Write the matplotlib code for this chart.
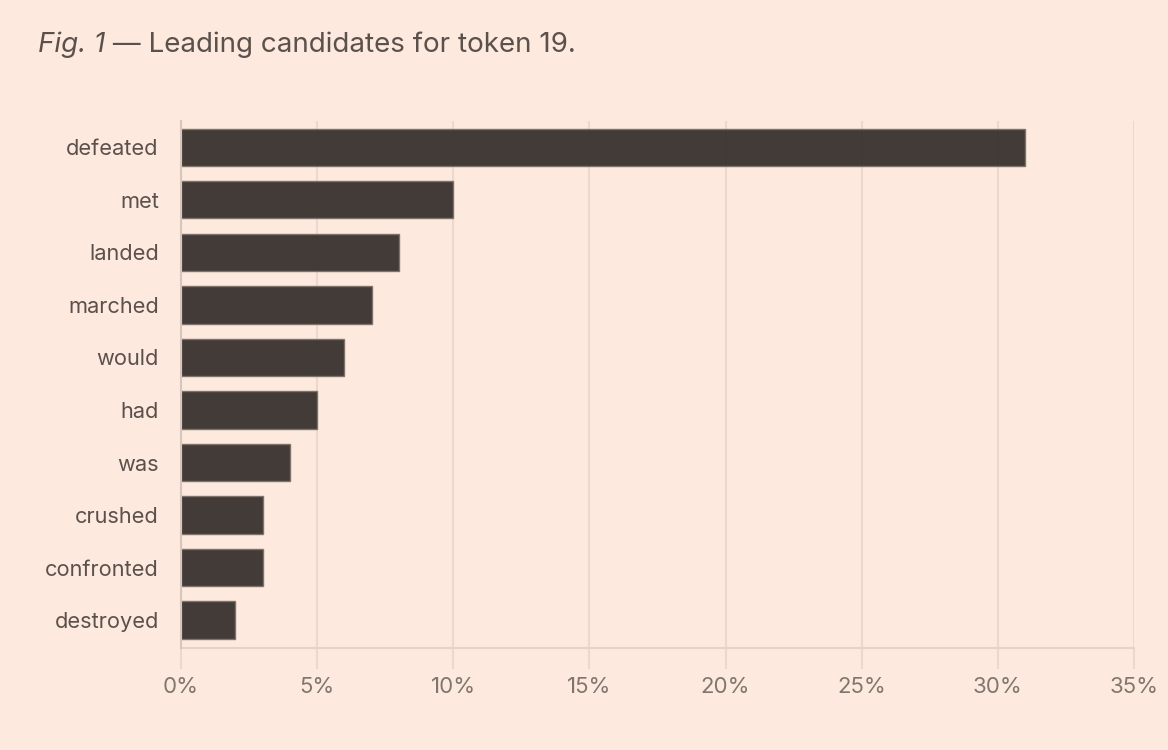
import matplotlib
matplotlib.use("Agg")
import matplotlib.pyplot as plt
from matplotlib.ticker import FuncFormatter, MultipleLocator

# Daten: Kandidaten und Wahrscheinlichkeiten (in Prozent)
candidates = ["defeated", "met", "landed", "marched", "would",
              "had", "was", "crushed", "confronted", "destroyed"]
shares = [31, 10, 8, 7, 6, 5, 4, 3, 3, 2]

bg = "#fde9dd"
bar_color = "#3a3430"
grid_color = "#ecd8cd"
label_color = "#5b514c"
tick_color = "#80766f"

plt.rcParams["font.family"] = ["Inter", "DejaVu Sans"]

fig = plt.figure(figsize=(11.68, 7.5), dpi=100, facecolor=bg)
ax = fig.add_axes([0.155, 0.136, 0.8159, 0.7027], facecolor=bg)

ypos = list(range(len(candidates)))
ax.barh(ypos, shares, height=0.71, color=bar_color, alpha=0.96,
        edgecolor="#7d716a", linewidth=1.0, zorder=2)

ax.set_xlim(0, 35)
ax.set_ylim(len(candidates) - 0.47, -0.5)
ax.xaxis.set_major_locator(MultipleLocator(5))
ax.xaxis.set_major_formatter(FuncFormatter(lambda v, p: f"{v:.0f}%"))
ax.set_yticks(ypos)
ax.set_yticklabels(candidates)

# Gitterlinien, nur schwach durch die Balken sichtbar
ax.grid(axis="x", color=grid_color, linewidth=1.5, zorder=1)
ax.set_axisbelow(True)

for s in ["top", "right"]:
    ax.spines[s].set_visible(False)
ax.spines["left"].set_color("#d6c6bd")
ax.spines["left"].set_linewidth(1.5)
ax.spines["left"].set_zorder(3)
ax.spines["bottom"].set_color("#e6d2c7")
ax.spines["bottom"].set_linewidth(1.5)

ax.tick_params(axis="x", length=15, width=1.5, color=grid_color,
               labelsize=16, labelcolor=tick_color, pad=6)
ax.tick_params(axis="y", length=0, labelsize=15.7, labelcolor=label_color, pad=16)

# Titel: kursiver Teil + normaler Teil
t1 = fig.text(0.0325, 0.9307, "Fig. 1", fontsize=20, style="italic",
              color=label_color, va="baseline", ha="left")
fig.canvas.draw()
ax.annotate(" \u2014 Leading candidates for token 19.", xy=(1, 0), xycoords=t1,
            fontsize=20, color=label_color, va="bottom", ha="left",
            annotation_clip=False)

fig.savefig("out.png", dpi=100, facecolor=bg)
